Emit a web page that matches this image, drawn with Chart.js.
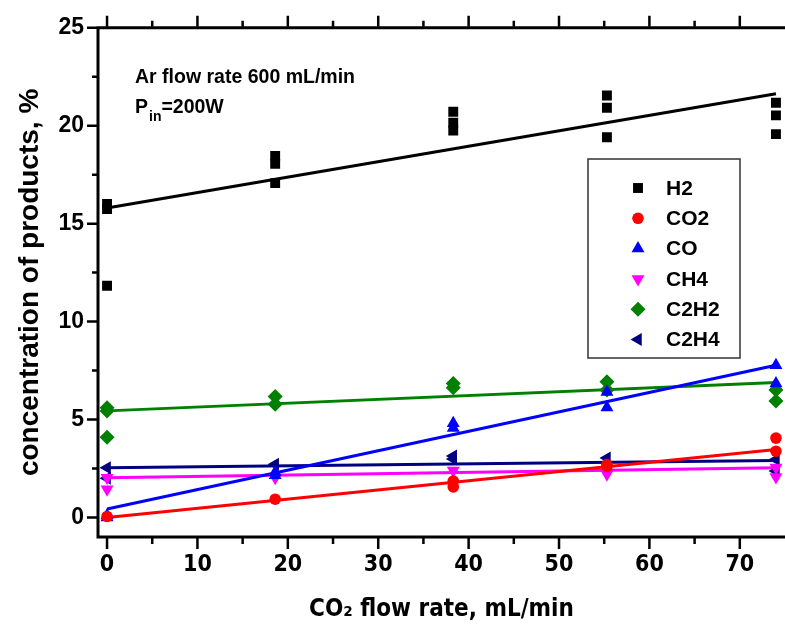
<!DOCTYPE html>
<html>
<head>
<meta charset="utf-8">
<script src="https://cdn.jsdelivr.net/npm/chart.js@4.4.1/dist/chart.umd.min.js"></script>
<style>
  html, body { margin: 0; padding: 0; background: #fff; }
</style>
</head>
<body>
<canvas id="c" width="785" height="626"></canvas>
<script>
// CO2 flow rate, mL/min
const flow = [0, 18.6, 38.3, 55.3, 74];

// product concentrations (%), repeated runs at each flow rate
const h2   = [[16.0, 15.75, 11.83], [18.46, 18.05, 17.07], [20.71, 20.16, 19.75], [21.54, 20.92, 19.41], [21.17, 20.53, 19.57]];
const co2  = [[0.05], [0.93], [1.86, 1.56], [2.7, 2.6], [4.05, 3.38]];
const co   = [[0.0, 0.1], [2.3, 2.15], [4.81, 4.56], [6.4, 5.61], [7.77, 6.84]];
const ch4  = [[2.03, 1.44], [2.03], [2.4], [2.2], [2.55, 2.06]];
const c2h2 = [[5.6, 5.44, 4.09], [6.17, 5.78], [6.84, 6.62], [6.93, 6.51], [6.51, 5.95]];
const c2h4 = [[2.53, 2.0], [2.71], [3.13, 2.98], [3.04], [2.96, 2.37]];

// linear fit lines, value at first and last flow rate
const fitX     = [0, 74];
const h2Fit    = [15.8, 21.63];
const co2Fit   = [0.0, 3.47];
const coFit    = [0.43, 7.77];
const ch4Fit   = [2.03, 2.53];
const c2h2Fit  = [5.44, 6.89];
const c2h4Fit  = [2.53, 2.91];

const species = ['H2', 'CO2', 'CO', 'CH4', 'C2H2', 'C2H4'];

const xTicks = [0, 5, 10, 15, 20, 25, 30, 35, 40, 45, 50, 55, 60, 65, 70];
const yTicks = [0, 2.5, 5, 7.5, 10, 12.5, 15, 17.5, 20, 22.5, 25];

const FONT = '"Liberation Sans", Arial, sans-serif';
const NARROW = '"Liberation Sans Narrow", "DejaVu Sans Condensed", sans-serif';

const series = [
  { values: h2,   fit: h2Fit,   color: '#000000', style: 'rect',     rot: 0,   r: 7 },
  { values: co2,  fit: co2Fit,  color: '#ff0000', style: 'circle',   rot: 0,   r: 5.8 },
  { values: co,   fit: coFit,   color: '#0000ff', style: 'triangle', rot: 0,   r: 7.5 },
  { values: ch4,  fit: ch4Fit,  color: '#ff00ff', style: 'triangle', rot: 180, r: 7.5 },
  { values: c2h2, fit: c2h2Fit, color: '#008000', style: 'rectRot',  rot: 0,   r: 7.5 },
  { values: c2h4, fit: c2h4Fit, color: '#000080', style: 'triangle', rot: 270, r: 7.5 }
];

function points(rows) {
  return rows.flatMap((vals, i) => vals.map(v => ({ x: flow[i], y: v })));
}

const datasets = [];
series.forEach((s, i) => {
  datasets.push({
    type: 'line',
    label: species[i] + ' fit',
    isFit: true,
    data: fitX.map((x, k) => ({ x: x, y: s.fit[k] })),
    borderColor: s.color,
    borderWidth: 3,
    pointRadius: 0,
    fill: false,
    order: 2
  });
  datasets.push({
    type: 'scatter',
    label: species[i],
    data: points(s.values),
    backgroundColor: s.color,
    borderColor: s.color,
    borderWidth: 0,
    pointStyle: s.style,
    pointRotation: s.rot,
    pointRadius: s.r,
    order: 1
  });
});

// axis frame with outward ticks on left, bottom and top
const frame = {
  id: 'frame',
  afterDatasetsDraw(chart) {
    const { ctx, chartArea: a, scales: { x, y } } = chart;
    ctx.save();
    ctx.strokeStyle = '#000';
    ctx.lineWidth = 3;
    ctx.beginPath();
    ctx.moveTo(a.right + 3, a.top);
    ctx.lineTo(a.left, a.top);
    ctx.lineTo(a.left, a.bottom);
    ctx.lineTo(a.right + 3, a.bottom);
    ctx.stroke();
    ctx.lineWidth = 2.5;
    ctx.beginPath();
    xTicks.forEach(v => {
      const px = x.getPixelForValue(v);
      const len = v % 10 === 0 ? 11 : 6;
      ctx.moveTo(px, a.bottom + 1);
      ctx.lineTo(px, a.bottom + 1 + len);
      ctx.moveTo(px, a.top - 1);
      ctx.lineTo(px, a.top - 1 - len);
    });
    yTicks.forEach(v => {
      const py = y.getPixelForValue(v);
      const len = v % 5 === 0 ? 10 : 5;
      ctx.moveTo(a.left - 1, py);
      ctx.lineTo(a.left - 1 - len, py);
    });
    ctx.stroke();
    ctx.restore();
  }
};

// boxed legend inside the plot
const legendBox = {
  id: 'legendBox',
  afterDraw(chart) {
    const ctx = chart.ctx;
    ctx.save();
    ctx.strokeStyle = '#333';
    ctx.lineWidth = 1.5;
    ctx.strokeRect(588, 159, 152, 199);
    ctx.font = 'bold 21px ' + FONT;
    ctx.textBaseline = 'middle';
    chart.data.datasets.filter(d => !d.isFit).forEach((d, i) => {
      const yy = 188 + i * 30.3;
      ctx.fillStyle = d.backgroundColor;
      ctx.strokeStyle = d.backgroundColor;
      Chart.helpers.drawPoint(ctx, {
        pointStyle: d.pointStyle, rotation: d.pointRotation, radius: d.pointRadius, borderWidth: 0
      }, 638, yy);
      ctx.fillStyle = '#000';
      ctx.fillText(d.label, 666, yy + 1);
    });
    ctx.restore();
  }
};

// run conditions, top left
const note = {
  id: 'note',
  afterDraw(chart) {
    const ctx = chart.ctx;
    ctx.save();
    ctx.fillStyle = '#000';
    ctx.textBaseline = 'alphabetic';
    ctx.font = 'bold 19.5px ' + FONT;
    ctx.fillText('Ar flow rate 600 mL/min', 135, 83);
    ctx.fillText('P', 135, 113);
    let px = 135 + ctx.measureText('P').width + 1;
    ctx.font = 'bold 14px ' + FONT;
    ctx.fillText('in', px, 121);
    px += ctx.measureText('in').width;
    ctx.font = 'bold 19.5px ' + FONT;
    ctx.fillText('=200W', px, 113);
    ctx.restore();
  }
};

new Chart(document.getElementById('c'), {
  type: 'scatter',
  data: { datasets: datasets },
  options: {
    responsive: false,
    animation: false,
    devicePixelRatio: 1,
    layout: { autoPadding: false, padding: { top: 24, right: 0, bottom: 0, left: 0 } },
    plugins: { legend: { display: false }, tooltip: { enabled: false } },
    scales: {
      x: {
        type: 'linear',
        min: -1,
        max: 75,
        afterBuildTicks: s => { s.ticks = xTicks.map(v => ({ value: v })); },
        afterFit: s => { s.height = 89; s.paddingLeft = 0; s.paddingRight = 0; },
        grid: { display: false, drawTicks: false },
        border: { display: false },
        ticks: {
          autoSkip: false,
          maxRotation: 0,
          padding: 14,
          color: '#000',
          font: { family: NARROW, size: 23, weight: 'bold' },
          callback: v => (v % 10 === 0 ? String(v) : '')
        },
        title: {
          display: true,
          text: 'CO₂ flow rate, mL/min',
          color: '#000',
          font: { family: NARROW, size: 24, weight: 'bold' },
          padding: { top: 0, bottom: 2 }
        }
      },
      y: {
        type: 'linear',
        min: -1,
        max: 25,
        afterBuildTicks: s => { s.ticks = yTicks.map(v => ({ value: v })); },
        afterFit: s => { s.width = 98; },
        grid: { display: false, drawTicks: false },
        border: { display: false },
        ticks: {
          autoSkip: false,
          padding: 14,
          color: '#000',
          font: { family: FONT, size: 23, weight: 'bold' },
          callback: v => (v % 5 === 0 ? String(v) : '')
        },
        title: {
          display: true,
          text: 'concentration of products, %',
          color: '#000',
          font: { family: FONT, size: 28, weight: 'bold' },
          padding: { top: 13, bottom: 0 }
        }
      }
    }
  },
  plugins: [frame, legendBox, note]
});
</script>
</body>
</html>
